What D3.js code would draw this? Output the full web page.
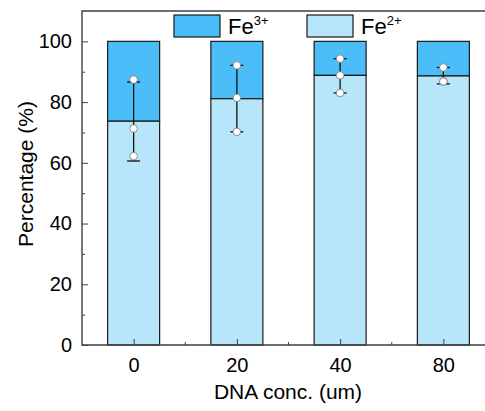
<!DOCTYPE html>
<html>
<head>
<meta charset="utf-8">
<script src="https://cdn.jsdelivr.net/npm/d3@7"></script>
<style>
  body { margin: 0; background: #fff; }
  svg { display: block; font-family: "Liberation Sans", Arial, sans-serif; }
</style>
</head>
<body>
<script>
const categories = ["0", "20", "40", "80"]
const fe2 = [73.7, 81.1, 88.8, 88.6]
const errLow = [60.6, 70.2, 83.0, 86.0]
const errHigh = [86.6, 92.1, 94.3, 91.4]
const points = [[87.4, 71.3, 62.2], [92.1, 81.4, 70.2], [94.3, 88.8, 83.0], [91.4, 86.8, 86.8]]
const yTicks = [0, 20, 40, 60, 80, 100]
const yMinor = [10, 30, 50, 70, 90]

const W = 485, H = 411
const LEFT = 82, TOP = 11, BOTTOM = 345, RIGHT = 495
const BAR_W = 52
const DARK = "#4bbef9", LIGHT = "#b7e6fa", AXIS = "#404040"

var svg = d3.select("body").append("svg").attr("width", W).attr("height", H)

var x = d3.scalePoint().domain(categories).range([LEFT, RIGHT]).padding(0.5)
var y = d3.scaleLinear().domain([0, 110]).range([BOTTOM, TOP])

var rows = categories.map(function(c, i){
    return {cat: c, fe2: fe2[i], lo: errLow[i], hi: errHigh[i], pts: points[i]}
})

// bars: Fe2+ at bottom, Fe3+ stacked to 100
var bars = svg.append("g")
bars.selectAll("rect.fe3").data(rows).enter().append("rect")
    .attr("x", d => x(d.cat) - BAR_W/2)
    .attr("y", y(100))
    .attr("width", BAR_W)
    .attr("height", d => y(d.fe2) - y(100))
    .attr("fill", DARK).attr("stroke", "#1a1a1a").attr("stroke-width", 1.2)
bars.selectAll("rect.fe2").data(rows).enter().append("rect")
    .attr("x", d => x(d.cat) - BAR_W/2)
    .attr("y", d => y(d.fe2))
    .attr("width", BAR_W)
    .attr("height", d => y(0) - y(d.fe2))
    .attr("fill", LIGHT).attr("stroke", "#1a1a1a").attr("stroke-width", 1.2)

// error bars
var err = svg.append("g").attr("stroke", "#111").attr("stroke-width", 1.3)
err.selectAll("line.v").data(rows).enter().append("line")
    .attr("x1", d => x(d.cat)).attr("x2", d => x(d.cat))
    .attr("y1", d => y(d.lo)).attr("y2", d => y(d.hi))
rows.forEach(function(d){
    [d.lo, d.hi].forEach(function(v){
        err.append("line")
            .attr("x1", x(d.cat) - 6.5).attr("x2", x(d.cat) + 6.5)
            .attr("y1", y(v)).attr("y2", y(v))
    })
})

// data points
var pts = []
rows.forEach(d => d.pts.forEach(v => pts.push({cat: d.cat, v: v})))
svg.append("g").selectAll("circle").data(pts).enter().append("circle")
    .attr("cx", d => x(d.cat)).attr("cy", d => y(d.v)).attr("r", 3.8)
    .attr("fill", "#fff").attr("stroke", "#777").attr("stroke-width", 0.8)

// axes
var yAxis = svg.append("g").attr("transform", "translate(" + LEFT + ",0)")
    .call(d3.axisLeft(y).tickValues(yTicks).tickSize(-6).tickPadding(10))
yAxis.selectAll("text").attr("font-size", 20).attr("fill", "#000").attr("font-family", null)
yAxis.select(".domain").remove()
yAxis.selectAll("line").attr("stroke", AXIS)
svg.append("g").attr("transform", "translate(" + LEFT + ",0)")
    .call(d3.axisLeft(y).tickValues(yMinor).tickSize(-3).tickFormat(""))
    .call(g => g.select(".domain").remove())
    .selectAll("line").attr("stroke", AXIS)

var xAxis = svg.append("g").attr("transform", "translate(0," + BOTTOM + ")")
    .call(d3.axisBottom(x).tickSize(-6).tickPadding(13))
xAxis.selectAll("text").attr("font-size", 20).attr("fill", "#000").attr("font-family", null)
xAxis.select(".domain").remove()
xAxis.selectAll("line").attr("stroke", AXIS)
var mids = d3.pairs(categories).map(p => (x(p[0]) + x(p[1])) / 2)
svg.append("g").selectAll("line").data(mids).enter().append("line")
    .attr("x1", d => d).attr("x2", d => d)
    .attr("y1", BOTTOM).attr("y2", BOTTOM - 3)
    .attr("stroke", AXIS)

// frame
svg.append("path")
    .attr("d", "M" + RIGHT + "," + TOP + "H" + LEFT + "V" + BOTTOM + "H" + RIGHT)
    .attr("fill", "none").attr("stroke", AXIS).attr("stroke-width", 1.4)

// titles
svg.append("text").attr("x", (LEFT + 400) / 2 + 47).attr("y", 399)
    .attr("text-anchor", "middle").attr("font-size", 21)
    .text("DNA conc. (um)")
svg.append("text").attr("transform", "translate(33,174) rotate(-90)")
    .attr("text-anchor", "middle").attr("font-size", 21)
    .text("Percentage (%)")

// legend
var legend = [{ion: "3+", color: DARK, x: 174}, {ion: "2+", color: LIGHT, x: 307}]
var lg = svg.append("g").selectAll("g").data(legend).enter().append("g")
lg.append("rect").attr("x", d => d.x).attr("y", 15).attr("width", 46).attr("height", 22)
    .attr("fill", d => d.color).attr("stroke", "#1a1a1a").attr("stroke-width", 1.2)
var lt = lg.append("text").attr("x", d => d.x + 54).attr("y", 33.5).attr("font-size", 22)
lt.append("tspan").text("Fe")
lt.append("tspan").attr("dy", -9).attr("font-size", 13).text(d => d.ion)
</script>
</body>
</html>
